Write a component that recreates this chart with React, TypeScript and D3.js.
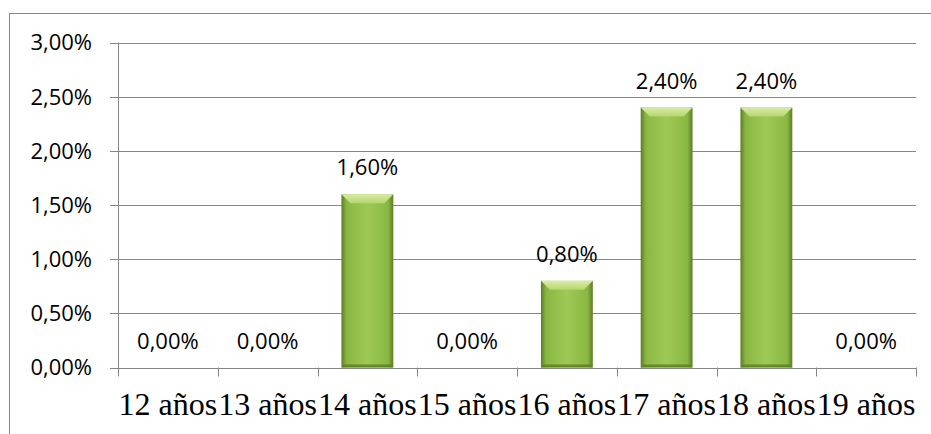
import React from "react";
import * as d3 from "d3";

const categories = ["12 años", "13 años", "14 años", "15 años", "16 años", "17 años", "18 años", "19 años"];
const values = [0, 0, 1.6, 0, 0.8, 2.4, 2.4, 0];
const yTicks = [0, 0.5, 1, 1.5, 2, 2.5, 3];

const W = 931;
const H = 434;
const M = { left: 118, right: 916, top: 42.5, bottom: 367.5 };

const fmt = (v: number) => v.toFixed(2).replace(".", ",") + "%";

export default function App() {
  const x = d3.scaleBand<string>().domain(categories).range([M.left, M.right]).paddingInner(0.48).paddingOuter(0.24);
  const xb = d3.scaleBand<string>().domain(categories).range([M.left, M.right]);
  const y = d3.scaleLinear().domain([0, 3]).range([M.bottom, M.top]);
  const grid = "#868686";
  const bev = 9;
  return (
    <svg width={W} height={H} style={{ position: "absolute", left: 0, top: 0, background: "#fff" }}>
      <defs>
        <linearGradient id="body" x1="0" x2="1" y1="0" y2="0">
          <stop offset="0" stopColor="#5e7c24" />
          <stop offset="0.1" stopColor="#8ab743" />
          <stop offset="0.5" stopColor="#9fc955" />
          <stop offset="0.9" stopColor="#8ab743" />
          <stop offset="1" stopColor="#5e7c24" />
        </linearGradient>
        <linearGradient id="topf" x1="0" x2="0" y1="0" y2="1">
          <stop offset="0" stopColor="#d8eca6" />
          <stop offset="1" stopColor="#b5d66c" />
        </linearGradient>
      </defs>
      <rect x={9.5} y={13.5} width={W + 20} height={H + 20} fill="#fff" stroke={grid} strokeWidth={1} />
      {yTicks.map((t) => (
        <g key={t}>
          <line x1={M.left - 8} x2={M.right} y1={Math.round(y(t)) + 0.5} y2={Math.round(y(t)) + 0.5} stroke={grid} strokeWidth={1} />
          <text x={92} y={y(t)} dy="0.36em" textAnchor="end" fontFamily="Open Sans, sans-serif" fontSize={22} fill="#000">
            {fmt(t)}
          </text>
        </g>
      ))}
      <line x1={M.left + 0.5} x2={M.left + 0.5} y1={M.top} y2={M.bottom + 9} stroke={grid} strokeWidth={1} />
      {categories.map((c) => (
        <line key={"t" + c} x1={Math.round(xb(c)! + xb.bandwidth()) + 0.5} x2={Math.round(xb(c)! + xb.bandwidth()) + 0.5} y1={M.bottom} y2={M.bottom + 9} stroke={grid} strokeWidth={1} />
      ))}
      {categories.map((c, i) => {
        const v = values[i];
        const x0 = x(c)!;
        const w = x.bandwidth();
        const y0 = y(v);
        const h = y(0) - y0;
        return (
          <g key={c}>
            {h > 0 && (
              <g>
                <rect x={x0} y={y0} width={w} height={h} fill="url(#body)" />
                <polygon points={`${x0},${y0} ${x0 + w},${y0} ${x0 + w - bev},${y0 + bev} ${x0 + bev},${y0 + bev}`} fill="url(#topf)" />
                <polygon points={`${x0},${y0 + h} ${x0 + w},${y0 + h} ${x0 + w - 3},${y0 + h - 3} ${x0 + 3},${y0 + h - 3}`} fill="#5b7a22" opacity={0.8} />
              </g>
            )}
            <text x={x0 + w / 2} y={y0 - 19} textAnchor="middle" fontFamily="Open Sans, sans-serif" fontSize={22} fill="#000">
              {fmt(v)}
            </text>
            <text x={xb(c)! + xb.bandwidth() / 2} y={415} textAnchor="middle" fontFamily="Liberation Serif, serif" fontSize={32} fill="#000">
              {c}
            </text>
          </g>
        );
      })}
    </svg>
  );
}
